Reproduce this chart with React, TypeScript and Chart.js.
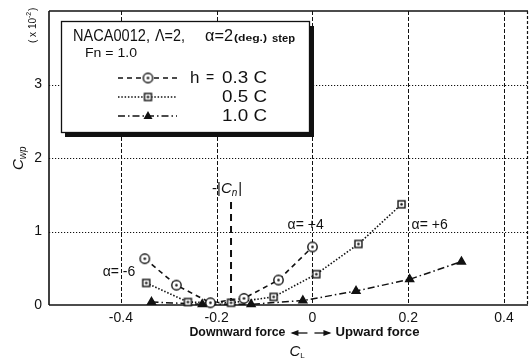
import React, { useEffect, useRef } from 'react';
import { Chart, registerables } from 'chart.js';

Chart.register(...registerables);

// Axis ticks
const xTickValues = [-0.4, -0.2, 0, 0.2, 0.4];
const yTickValues = [0, 1, 2, 3];

// h = 0.3 C  (alpha = -6 ... +4, step 2 deg)
const clH03 = [-0.35, -0.284, -0.213, -0.143, -0.071, 0.0];
const cwpH03 = [0.63, 0.27, 0.03, 0.09, 0.34, 0.79];

// h = 0.5 C  (alpha = -6 ... +6)
const clH05 = [-0.347, -0.26, -0.17, -0.081, 0.008, 0.096, 0.186];
const cwpH05 = [0.3, 0.04, 0.03, 0.11, 0.42, 0.83, 1.37];

// h = 1.0 C  (alpha = -6 ... +6)
const clH10 = [-0.336, -0.23, -0.128, -0.02, 0.091, 0.203, 0.311];
const cwpH10 = [0.04, 0.01, 0.01, 0.06, 0.19, 0.35, 0.59];

// -|Cn| marker line
const cnX = -0.17;
const cnRange = [0, 1.4];

// Angle-of-attack notes
const alphaNotes = [
  { text: 'α= -6', x: -0.438, y: 0.45 },
  { text: 'α= +4', x: -0.052, y: 1.09 },
  { text: 'α= +6', x: 0.207, y: 1.09 },
];

const FONT = '"Liberation Sans", Arial, Helvetica, sans-serif';
const INK = '#111';

function makeMarker(kind: 'circle' | 'square'): HTMLCanvasElement {
  const c = document.createElement('canvas');
  const s = kind === 'circle' ? 13 : 11;
  c.width = s;
  c.height = s;
  const g = c.getContext('2d')!;
  g.fillStyle = '#fff';
  g.strokeStyle = INK;
  g.lineWidth = 1.4;
  if (kind === 'circle') {
    g.beginPath();
    g.arc(s / 2, s / 2, 4.7, 0, Math.PI * 2);
    g.fill();
    g.stroke();
  } else {
    g.fillRect(2, 2, 7, 7);
    g.strokeRect(2, 2, 7, 7);
  }
  g.fillStyle = INK;
  g.beginPath();
  g.arc(s / 2, s / 2, 1.3, 0, Math.PI * 2);
  g.fill();
  return c;
}

function put(
  ctx: CanvasRenderingContext2D,
  s: string,
  x: number,
  y: number,
  font: string,
  width?: number,
  align: CanvasTextAlign = 'left'
) {
  ctx.font = font;
  ctx.textAlign = align;
  ctx.textBaseline = 'middle';
  ctx.fillStyle = INK;
  if (width) {
    const k = width / ctx.measureText(s).width;
    ctx.save();
    ctx.translate(x, y);
    ctx.scale(k, 1);
    ctx.fillText(s, 0, 0);
    ctx.restore();
    return x + width;
  }
  ctx.fillText(s, x, y);
  return x + ctx.measureText(s).width;
}

function line(ctx: CanvasRenderingContext2D, x1: number, y1: number, x2: number, y2: number) {
  ctx.beginPath();
  ctx.moveTo(x1, y1);
  ctx.lineTo(x2, y2);
  ctx.stroke();
}

// drop the automatic label overhang so the plot frame sits where the layout puts it
const noPadding = (axis: any) => {
  axis.paddingTop = 0;
  axis.paddingBottom = 0;
  axis.paddingLeft = 0;
  axis.paddingRight = 0;
};

export default function App() {
  const ref = useRef<HTMLCanvasElement | null>(null);

  useEffect(() => {
    const canvas = ref.current;
    if (!canvas) return;
    const circleDot = makeMarker('circle');
    const squareDot = makeMarker('square');

    const dashes03 = [5, 4];
    const dashes05 = [1.5, 1.8];
    const dashes10 = [7, 3, 1.5, 3];

    const decorations = {
      id: 'decorations',
      beforeDatasetsDraw(chart: any) {
        const { ctx, chartArea: a, scales } = chart;
        const xs = scales.x;
        const ys = scales.y;
        ctx.save();
        ctx.strokeStyle = INK;
        // horizontal grid (dotted)
        ctx.lineWidth = 1;
        ctx.setLineDash([1.2, 1.8]);
        for (const v of yTickValues) {
          if (v === 0) continue;
          const py = Math.round(ys.getPixelForValue(v)) + 0.5;
          line(ctx, a.left, py, a.right, py);
        }
        // vertical grid (dashed)
        ctx.setLineDash([4, 2]);
        for (const v of xTickValues) {
          const px = Math.round(xs.getPixelForValue(v)) + 0.5;
          line(ctx, px, a.top, px, a.bottom);
        }
        // frame
        ctx.setLineDash([]);
        ctx.lineWidth = 1.6;
        line(ctx, a.left, a.top, a.right, a.top);
        line(ctx, a.left, a.top, a.left, a.bottom);
        line(ctx, a.left, a.bottom, a.right, a.bottom);
        ctx.lineWidth = 1.2;
        ctx.setLineDash([3, 2]);
        line(ctx, a.right - 0.5, a.top, a.right - 0.5, a.bottom);
        // -|Cn| line
        ctx.lineWidth = 2;
        ctx.setLineDash([7, 5]);
        const cx = xs.getPixelForValue(cnX);
        line(ctx, cx, ys.getPixelForValue(cnRange[1]), cx, ys.getPixelForValue(cnRange[0]));
        ctx.restore();
      },
      afterDatasetsDraw(chart: any) {
        const { ctx, scales } = chart;
        const xs = scales.x;
        const ys = scales.y;
        ctx.save();

        // -|Cn| label
        {
          const lx = xs.getPixelForValue(cnX) - 19;
          const ly = ys.getPixelForValue(cnRange[1]) - 13;
          let px = put(ctx, '-|', lx, ly, `15px ${FONT}`);
          px = put(ctx, 'C', px, ly, `italic 15px ${FONT}`);
          px = put(ctx, 'n', px, ly + 4, `italic 10px ${FONT}`);
          put(ctx, '|', px + 1, ly, `15px ${FONT}`);
        }

        // alpha notes
        for (const n of alphaNotes) {
          put(ctx, n.text, xs.getPixelForValue(n.x), ys.getPixelForValue(n.y), `14px ${FONT}`);
        }

        // legend box with heavy shadow
        const bx = 61, by = 21, bw = 248, bh = 111;
        ctx.fillStyle = INK;
        ctx.fillRect(bx + bw, by + 5, 5, bh);
        ctx.fillRect(bx + 4, by + bh, bw + 1, 5);
        ctx.fillStyle = '#fff';
        ctx.fillRect(bx, by, bw, bh);
        ctx.strokeStyle = INK;
        ctx.lineWidth = 1.3;
        ctx.setLineDash([]);
        ctx.strokeRect(bx + 0.5, by + 0.5, bw, bh);

        put(ctx, 'NACA0012,', 73, 37, `16px ${FONT}`, 77);
        put(ctx, 'Λ=2,', 155, 37, `16px ${FONT}`, 30);
        put(ctx, 'α=2', 205, 37, `16px ${FONT}`, 28);
        put(ctx, '(deg.)', 234, 39, `bold 9px ${FONT}`, 33);
        put(ctx, 'step', 272, 39, `bold 10px ${FONT}`, 23);
        put(ctx, 'Fn = 1.0', 85, 53, `13px ${FONT}`, 52);

        const rows = [
          { y: 78, dash: dashes03, img: circleDot as any, label: '0.3 C' },
          { y: 97, dash: dashes05, img: squareDot as any, label: '0.5 C' },
          { y: 116, dash: dashes10, img: null, label: '1.0 C' },
        ];
        for (const r of rows) {
          ctx.strokeStyle = INK;
          ctx.lineWidth = 1.5;
          ctx.setLineDash(r.dash);
          line(ctx, 118, r.y, 177, r.y);
          ctx.setLineDash([]);
          if (r.img) {
            ctx.drawImage(r.img, 148 - r.img.width / 2, r.y - r.img.height / 2);
          } else {
            ctx.fillStyle = INK;
            ctx.beginPath();
            ctx.moveTo(148, r.y - 5);
            ctx.lineTo(152.5, r.y + 3);
            ctx.lineTo(143.5, r.y + 3);
            ctx.closePath();
            ctx.fill();
          }
          put(ctx, r.label, 267, r.y, `17px ${FONT}`, 45, 'right');
        }
        put(ctx, 'h', 190, 78, `17px ${FONT}`);
        put(ctx, '=', 206, 78, `14px ${FONT}`);

        // y title, rotated
        ctx.save();
        ctx.translate(19, 160);
        ctx.rotate(-Math.PI / 2);
        let p = put(ctx, 'C', -10, 0, `italic 15px ${FONT}`);
        put(ctx, 'wp', p, 4, `italic 10px ${FONT}`);
        ctx.restore();

        ctx.save();
        ctx.translate(33, 26);
        ctx.rotate(-Math.PI / 2);
        p = put(ctx, '( x 10', -17, 0, `10px ${FONT}`);
        put(ctx, '-2', p, -4, `7px ${FONT}`);
        put(ctx, ')', p + 7, 0, `10px ${FONT}`);
        ctx.restore();

        // force direction note
        const ny = 333;
        const zx = xs.getPixelForValue(0);
        put(ctx, 'Downward force', zx - 27, ny, `bold 12px ${FONT}`, 96, 'right');
        put(ctx, 'Upward force', zx + 23, ny, `bold 12px ${FONT}`, 84);
        ctx.strokeStyle = INK;
        ctx.fillStyle = INK;
        ctx.lineWidth = 1.3;
        // left arrow
        line(ctx, zx - 5, ny, zx - 20, ny);
        ctx.beginPath();
        ctx.moveTo(zx - 22, ny);
        ctx.lineTo(zx - 14, ny - 3);
        ctx.lineTo(zx - 14, ny + 3);
        ctx.closePath();
        ctx.fill();
        // right arrow
        line(ctx, zx + 2, ny, zx + 17, ny);
        ctx.beginPath();
        ctx.moveTo(zx + 19, ny);
        ctx.lineTo(zx + 11, ny - 3);
        ctx.lineTo(zx + 11, ny + 3);
        ctx.closePath();
        ctx.fill();

        // x title
        p = put(ctx, 'C', zx - 23, 352, `italic 15px ${FONT}`);
        put(ctx, 'L', p, 356, `8px ${FONT}`);

        ctx.restore();
      },
    };

    const pts = (xs: number[], ys: number[]) => xs.map((x, i) => ({ x, y: ys[i] }));

    const chart = new Chart(canvas, {
      type: 'scatter',
      data: {
        datasets: [
          {
            label: 'h = 0.3 C',
            data: pts(clH03, cwpH03),
            showLine: true,
            borderColor: INK,
            borderWidth: 1.6,
            borderDash: dashes03,
            pointStyle: circleDot as any,
            pointRadius: 5,
            clip: false as any,
          },
          {
            label: 'h = 0.5 C',
            data: pts(clH05, cwpH05),
            showLine: true,
            borderColor: INK,
            borderWidth: 1.6,
            borderDash: dashes05,
            pointStyle: squareDot as any,
            pointRadius: 5,
            clip: false as any,
          },
          {
            label: 'h = 1.0 C',
            data: pts(clH10, cwpH10),
            showLine: true,
            borderColor: INK,
            borderWidth: 1.5,
            borderDash: dashes10,
            pointStyle: 'triangle',
            pointRadius: 4.5,
            pointBackgroundColor: INK,
            pointBorderColor: INK,
            clip: false as any,
          },
        ],
      },
      options: {
        animation: false,
        responsive: false,
        layout: { autoPadding: false, padding: { top: 11, right: 1, left: 0, bottom: 0 } },
        plugins: { legend: { display: false }, tooltip: { enabled: false } },
        scales: {
          x: {
            type: 'linear',
            min: -0.55,
            max: 0.45,
            grid: { display: false, drawTicks: false },
            border: { display: false },
            afterBuildTicks: (axis: any) => {
              axis.ticks = xTickValues.map((value) => ({ value }));
            },
            afterFit: (axis: any) => {
              axis.height = 54;
              noPadding(axis);
            },
            ticks: {
              color: INK,
              padding: 5,
              font: { family: FONT, size: 14 },
              callback: (v: any) => (Number(v) === 0 ? '0' : Number(v).toFixed(1)),
            },
          },
          y: {
            type: 'linear',
            min: 0,
            max: 4,
            grid: { display: false, drawTicks: false },
            border: { display: false },
            afterBuildTicks: (axis: any) => {
              axis.ticks = yTickValues.map((value) => ({ value }));
            },
            afterFit: (axis: any) => {
              axis.width = 49;
              noPadding(axis);
            },
            ticks: {
              color: INK,
              padding: 7,
              font: { family: FONT, size: 14 },
              callback: (v: any) => String(v),
            },
          },
        },
      },
      plugins: [decorations],
    });

    return () => chart.destroy();
  }, []);

  return (
    <div style={{ position: 'absolute', left: 0, top: 0, width: 529, height: 359, background: '#fff' }}>
      <canvas ref={ref} width={529} height={359} />
    </div>
  );
}
